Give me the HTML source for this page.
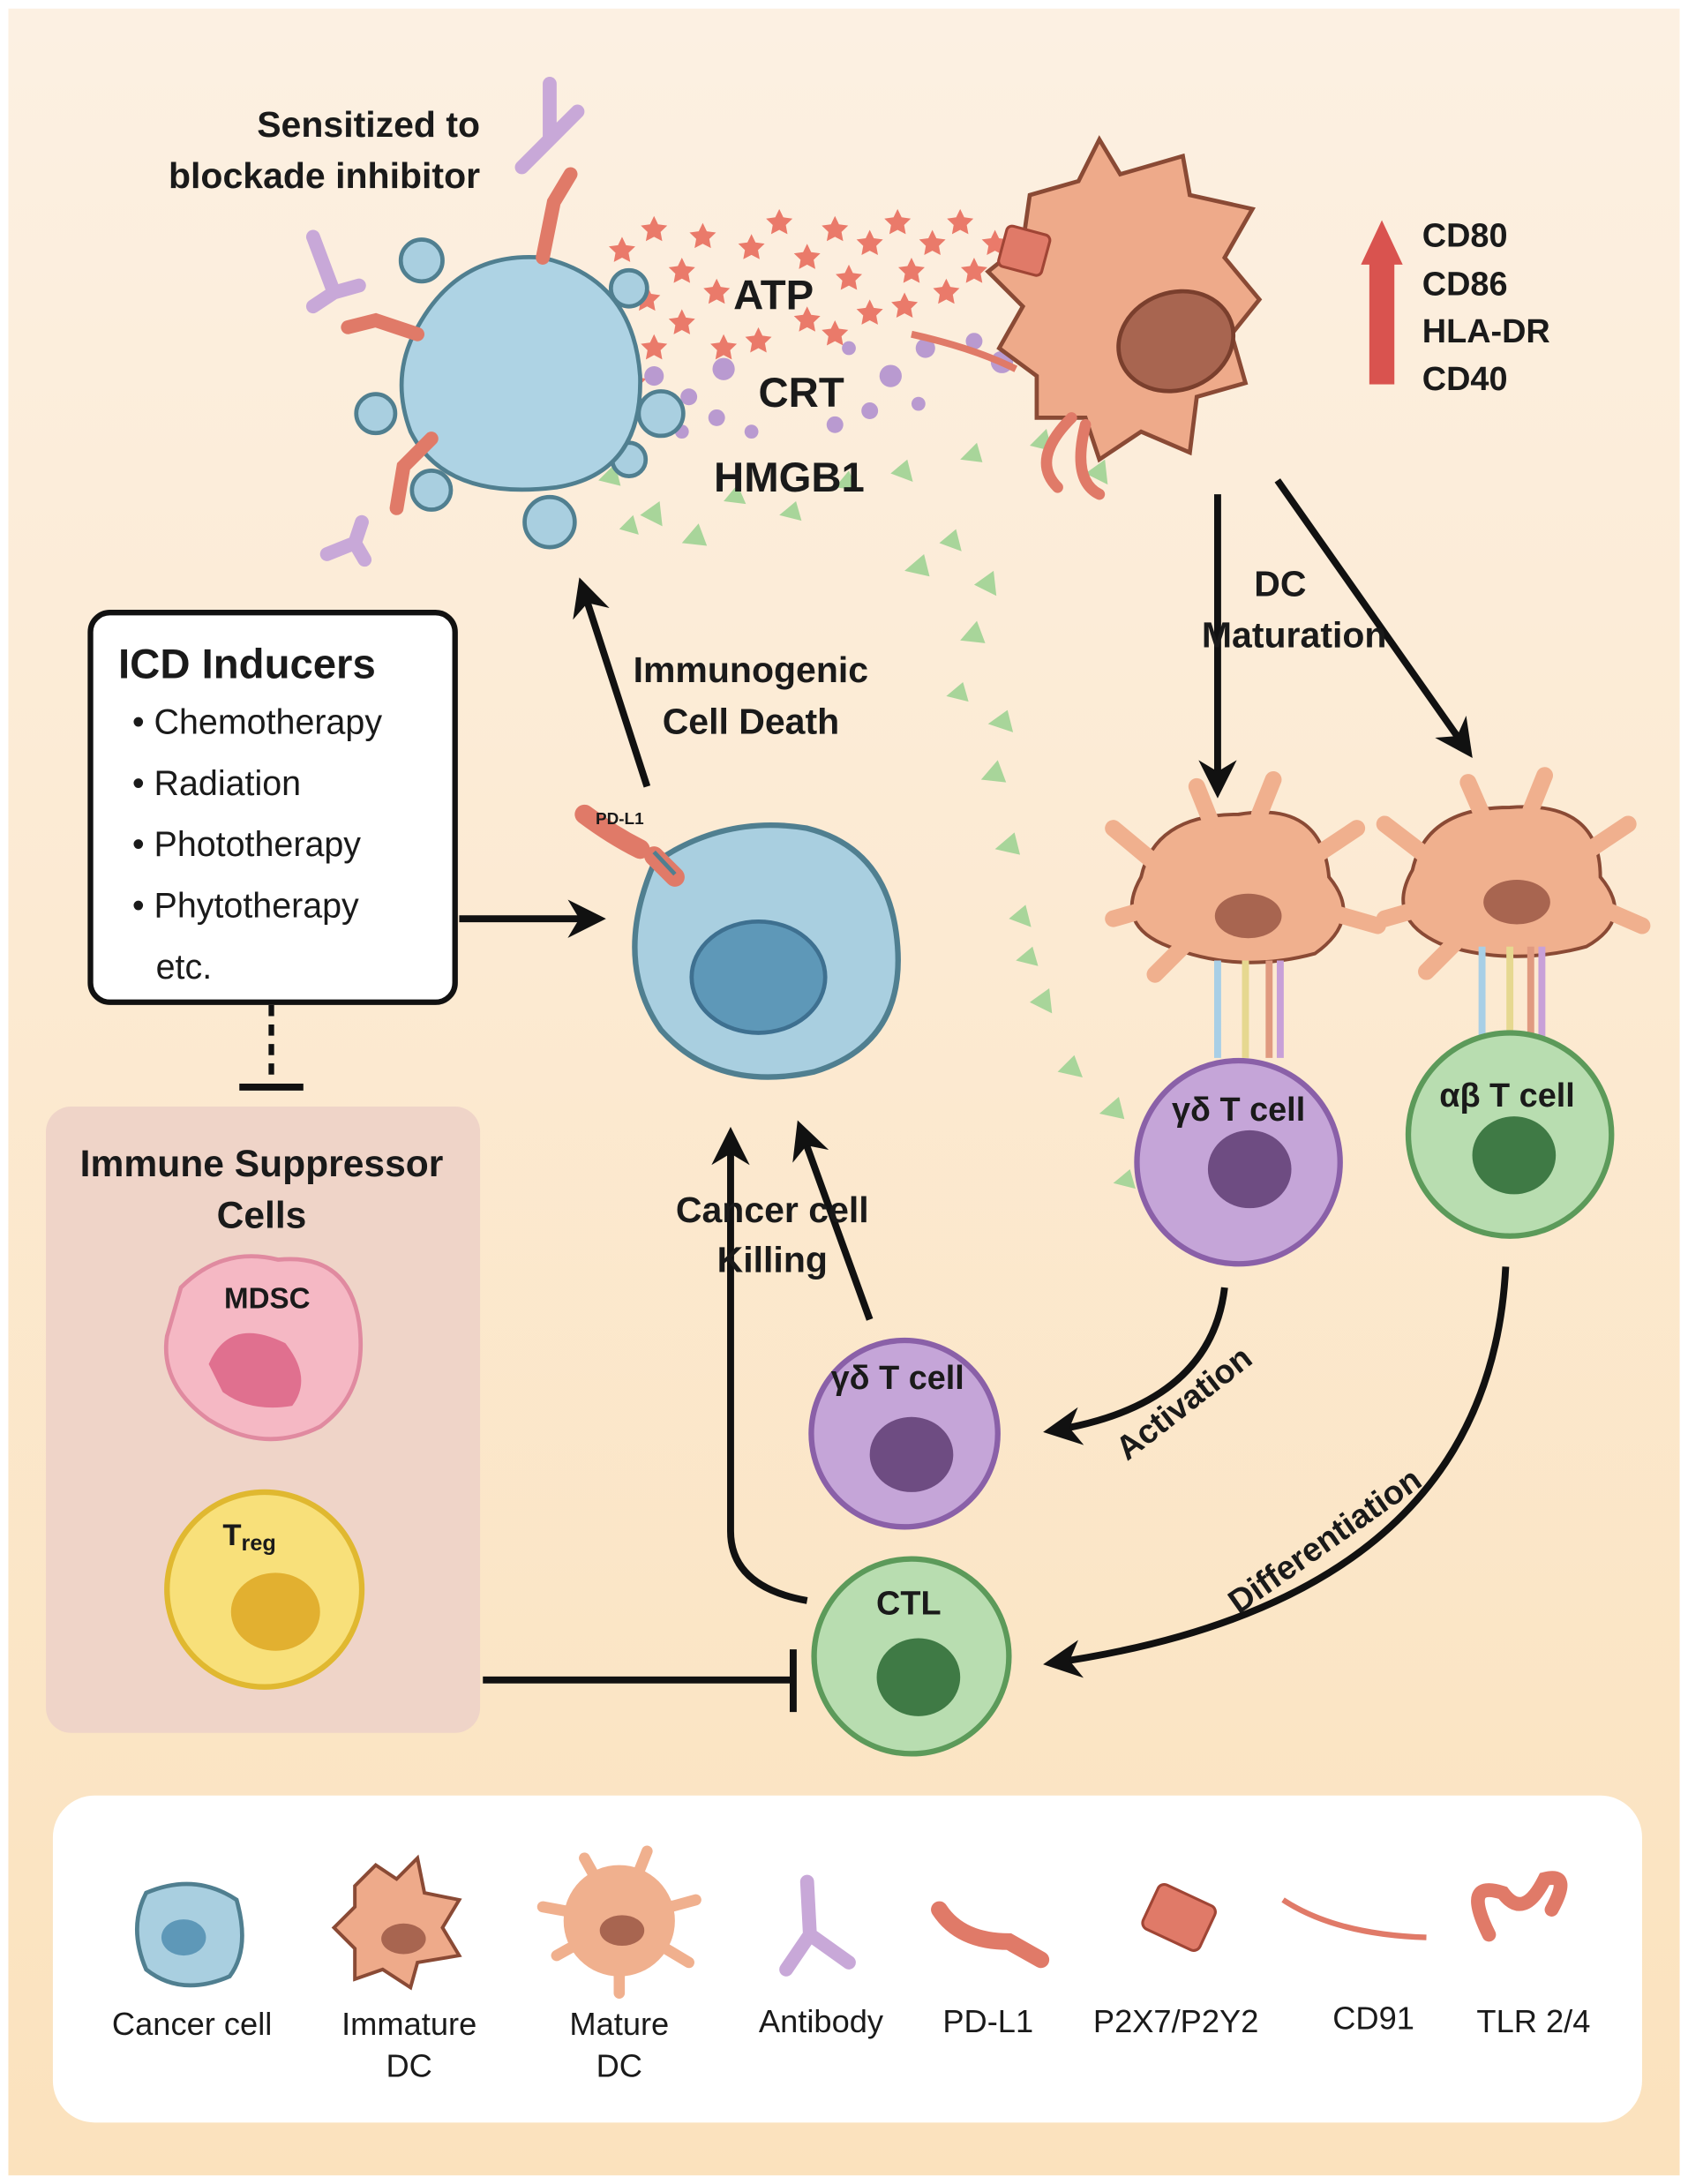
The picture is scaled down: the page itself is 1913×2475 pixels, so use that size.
<!DOCTYPE html>
<html><head><meta charset="utf-8"><style>
html,body{margin:0;padding:0;background:#fff}
svg{display:block}
text{font-family:"Liberation Sans",sans-serif;font-weight:bold;fill:#1a1a1a}
text.n{font-weight:normal}
</style></head><body>
<svg width="1913" height="2475" viewBox="0 0 1213 1569" xmlns="http://www.w3.org/2000/svg">
<defs>
<linearGradient id="bg" x1="0" y1="0" x2="0" y2="1"><stop offset="0" stop-color="#fcf0e2"/><stop offset="1" stop-color="#fbe2bd"/></linearGradient>
<marker id="ah" viewBox="0 0 10 10" refX="8" refY="5" markerWidth="5.5" markerHeight="5.5" orient="auto"><path d="M0,0 L10,5 L0,10 L3,5 z" fill="#111"/></marker>
<path id="st" d="M0,-10 L2.9,-4 L9.5,-3.1 L4.7,1.5 L5.9,8.1 L0,5 L-5.9,8.1 L-4.7,1.5 L-9.5,-3.1 L-2.9,-4Z" fill="#ea7a6a"/>
</defs>
<rect x="0" y="0" width="1213" height="1569" fill="#fff"/>
<rect x="6" y="6" width="1201" height="1557" fill="url(#bg)"/>
<rect x="38" y="1290" width="1142" height="235" rx="30" fill="#fff"/>
<rect x="33" y="795" width="312" height="450" rx="18" fill="#efd4c8"/>
<rect x="65" y="440" width="262" height="280" rx="14" fill="#fff" stroke="#111" stroke-width="4"/>
<text x="85" y="487" font-size="30">ICD Inducers</text>
<g font-size="25"><text class="n" x="95" y="527">• Chemotherapy</text><text class="n" x="95" y="571">• Radiation</text><text class="n" x="95" y="615">• Phototherapy</text><text class="n" x="95" y="659">• Phytotherapy</text><text class="n" x="112" y="703">etc.</text></g>
<line x1="195" y1="722" x2="195" y2="778" stroke="#111" stroke-width="4" stroke-dasharray="8,6"/>
<line x1="172" y1="781" x2="218" y2="781" stroke="#111" stroke-width="5"/>
<text x="188" y="845" font-size="27" text-anchor="middle">Immune Suppressor</text>
<text x="188" y="882" font-size="27" text-anchor="middle">Cells</text>
<path d="M130,925 Q160,895 200,905 Q250,900 258,950 Q265,1000 230,1025 Q190,1045 150,1020 Q115,995 120,960 Z" fill="#f5b8c4" stroke="#e08aa0" stroke-width="3"/>
<path d="M150,980 Q165,945 205,965 Q225,990 210,1010 Q180,1015 160,1000 Z" fill="#e0708f"/>
<text x="192" y="940" font-size="21" text-anchor="middle">MDSC</text>
<circle cx="190" cy="1142" r="70" fill="#f8e07a" stroke="#e0b830" stroke-width="4"/>
<ellipse cx="198" cy="1158" rx="32" ry="28" fill="#e2b030"/>
<text x="160" y="1110" font-size="22">T<tspan font-size="16" dy="4">reg</tspan></text>
<line x1="347" y1="1207" x2="570" y2="1207" stroke="#111" stroke-width="5"/>
<line x1="570" y1="1185" x2="570" y2="1230" stroke="#111" stroke-width="5"/>
<!-- stars -->
<g>
<use href="#st" x="447" y="180"/><use href="#st" x="470" y="165"/><use href="#st" x="490" y="195"/><use href="#st" x="505" y="170"/><use href="#st" x="465" y="215"/><use href="#st" x="490" y="232"/><use href="#st" x="515" y="210"/><use href="#st" x="540" y="178"/><use href="#st" x="560" y="160"/><use href="#st" x="580" y="185"/><use href="#st" x="600" y="165"/><use href="#st" x="610" y="200"/><use href="#st" x="625" y="175"/><use href="#st" x="645" y="160"/><use href="#st" x="655" y="195"/><use href="#st" x="670" y="175"/><use href="#st" x="690" y="160"/><use href="#st" x="700" y="195"/><use href="#st" x="715" y="175"/><use href="#st" x="625" y="225"/><use href="#st" x="600" y="240"/><use href="#st" x="580" y="230"/><use href="#st" x="545" y="245"/><use href="#st" x="520" y="250"/><use href="#st" x="470" y="250"/><use href="#st" x="455" y="275"/><use href="#st" x="650" y="220"/><use href="#st" x="680" y="210"/>
</g>
<g fill="#b99ad0">
<circle cx="470" cy="270" r="7"/><circle cx="495" cy="285" r="6"/><circle cx="520" cy="265" r="8"/><circle cx="515" cy="300" r="6"/><circle cx="640" cy="270" r="8"/><circle cx="665" cy="250" r="7"/><circle cx="700" cy="245" r="6"/><circle cx="625" cy="295" r="6"/><circle cx="660" cy="290" r="5"/><circle cx="490" cy="310" r="5"/><circle cx="610" cy="250" r="5"/><circle cx="720" cy="260" r="8"/><circle cx="540" cy="310" r="5"/><circle cx="600" cy="305" r="6"/>
</g>
<g fill="#a8d59a">
<path d="M430,345 l12,-12 l4,16z M460,370 l14,-10 l2,18z M490,390 l12,-14 l6,16z M520,360 l10,-12 l6,14z M640,340 l12,-10 l4,16z M690,330 l12,-12 l4,14z M740,320 l12,-12 l4,16z M780,340 l14,-10 l2,18z M650,410 l14,-12 l4,16z M700,420 l14,-10 l2,18z M690,460 l12,-14 l6,16z M710,520 l14,-10 l4,16z M705,560 l12,-14 l6,16z M715,610 l14,-12 l4,16z M725,660 l12,-10 l4,16z M740,720 l14,-10 l2,18z M760,770 l12,-12 l6,16z M790,800 l14,-12 l4,16z M800,850 l12,-10 l4,14z M560,370 l12,-10 l4,14z M600,350 l10,-12 l6,14z M675,390 l12,-10 l4,16z M445,380 l10,-10 l4,14z M680,500 l12,-10 l4,14z M730,690 l12,-10 l4,14z"/>
</g>
<text x="527" y="222" font-size="30">ATP</text>
<text x="545" y="292" font-size="30">CRT</text>
<text x="513" y="353" font-size="30">HMGB1</text>
<text x="345" y="98" font-size="26" text-anchor="end">Sensitized to</text>
<text x="345" y="135" font-size="26" text-anchor="end">blockade inhibitor</text>
<g stroke="#507f90" stroke-width="3" fill="#a9cfe0">
<circle cx="303" cy="187" r="15"/><circle cx="452" cy="207" r="13"/><circle cx="270" cy="297" r="14"/><circle cx="475" cy="297" r="16"/><circle cx="452" cy="330" r="12"/><circle cx="310" cy="352" r="14"/><circle cx="395" cy="375" r="18"/>
<path d="M300,235 Q330,180 390,185 Q455,200 460,270 Q462,340 400,350 Q320,360 295,310 Q280,270 300,235Z" fill="#aed3e4"/>
</g>
<g stroke-linecap="round" fill="none">
<path d="M390,185 L398,145 L410,125" stroke="#e07a68" stroke-width="10"/>
<path d="M395,60 L395,100 M395,100 L375,120 M395,100 L415,80" stroke="#c8a8d8" stroke-width="10"/>
<path d="M300,240 L270,230 L250,235" stroke="#e07a68" stroke-width="10"/>
<path d="M225,170 L240,210 L225,220 M240,210 L258,205" stroke="#c8a8d8" stroke-width="10"/>
<path d="M310,315 L290,335 L285,365" stroke="#e07a68" stroke-width="10"/>
<path d="M260,375 L255,390 L235,398 M255,390 L262,402" stroke="#c8a8d8" stroke-width="10"/>
</g>
<path d="M740,140 L775,130 L790,100 L805,125 L850,112 L855,140 L900,150 L880,185 L905,215 L885,240 L895,275 L860,285 L855,325 L820,310 L790,330 L780,300 L745,300 L745,270 L718,250 L735,220 L710,195 L735,175 Z" fill="#eeaa8a" stroke="#8a4a35" stroke-width="3"/>
<ellipse cx="845" cy="245" rx="42" ry="35" fill="#a86550" stroke="#7a3f2d" stroke-width="3" transform="rotate(-20 845 245)"/>
<rect x="720" y="165" width="32" height="30" rx="4" fill="#e07a68" stroke="#a04535" stroke-width="2" transform="rotate(15 736 180)"/>
<path d="M655,240 Q700,250 730,265" stroke="#e07a68" stroke-width="5" fill="none"/>
<path d="M770,300 Q740,330 760,350 M780,305 Q770,345 790,355" stroke="#e07a68" stroke-width="8" fill="none" stroke-linecap="round"/>
<rect x="984" y="188" width="18" height="88" fill="#d9534f"/><path d="M978,190 L993,158 L1008,190Z" fill="#d9534f"/>
<g font-size="24"><text x="1022" y="177">CD80</text><text x="1022" y="212">CD86</text><text x="1022" y="246">HLA-DR</text><text x="1022" y="280">CD40</text></g>
<g stroke="#111" stroke-width="5" fill="none" marker-end="url(#ah)">
<line x1="465" y1="565" x2="418" y2="420"/>
<line x1="330" y1="660" x2="430" y2="660"/>
<line x1="875" y1="355" x2="875" y2="568"/>
<line x1="918" y1="345" x2="1055" y2="540"/>
<path d="M580,1150 Q525,1140 525,1100 L525,815"/>
<line x1="625" y1="948" x2="575" y2="810"/>
<path d="M880,925 Q870,1010 755,1028"/>
<path d="M1082,910 Q1070,1150 755,1195"/>
</g>
<text x="455" y="490" font-size="26">Immunogenic</text>
<text x="476" y="527" font-size="26">Cell Death</text>
<text x="920" y="428" font-size="26" text-anchor="middle">DC</text>
<text x="930" y="465" font-size="26" text-anchor="middle">Maturation</text>
<text x="555" y="878" font-size="26" text-anchor="middle">Cancer cell</text>
<text x="555" y="914" font-size="26" text-anchor="middle">Killing</text>
<text x="810" y="1050" font-size="24" transform="rotate(-38 810 1050)">Activation</text>
<text x="890" y="1160" font-size="24" transform="rotate(-35 890 1160)">Differentiation</text>
<path d="M470,620 Q520,585 580,595 Q640,610 645,680 Q650,750 585,770 Q515,785 475,740 Q440,690 470,620Z" fill="#a9cfe0" stroke="#507f90" stroke-width="4"/>
<ellipse cx="545" cy="702" rx="48" ry="40" fill="#5e98b8" stroke="#3e7090" stroke-width="3"/>
<path d="M485,630 L470,615 M420,585 Q440,600 460,610" stroke="#e07a68" stroke-width="14" stroke-linecap="round" fill="none"/>
<line x1="470" y1="612" x2="485" y2="628" stroke="#507f90" stroke-width="3"/>
<text x="428" y="592" font-size="12">PD-L1</text>
<g fill="#f0b08e" stroke="#8a4a35" stroke-width="2.5">
<path d="M890,585 Q950,575 955,630 Q980,660 945,685 Q890,700 840,680 Q800,665 820,630 Q830,585 890,585Z"/>
<path d="M1085,580 Q1150,575 1150,630 Q1175,660 1140,680 Q1085,695 1035,678 Q995,660 1015,625 Q1025,580 1085,580Z"/>
</g>
<g stroke="#f0b08e" stroke-width="12" stroke-linecap="round" fill="none">
<path d="M830,620 L800,595 M835,650 L800,660 M870,590 L860,565 M905,585 L915,560 M945,615 L975,595 M955,655 L990,665 M850,680 L830,700"/>
<path d="M1025,615 L995,592 M1030,650 L995,660 M1065,585 L1055,562 M1100,582 L1110,557 M1140,612 L1170,592 M1150,652 L1180,665 M1045,678 L1025,698"/>
</g>
<ellipse cx="897" cy="658" rx="24" ry="16" fill="#a86550"/><ellipse cx="1090" cy="648" rx="24" ry="16" fill="#a86550"/>
<g stroke-width="5" fill="none">
<path d="M875,690 L875,760" stroke="#a8cfe6"/><path d="M895,690 L895,760" stroke="#e6d890"/><path d="M912,690 L912,760" stroke="#e09a80"/><path d="M920,690 L920,760" stroke="#c8a0d8"/>
<path d="M1065,680 L1065,750" stroke="#a8cfe6"/><path d="M1085,680 L1085,750" stroke="#e6d890"/><path d="M1100,680 L1100,750" stroke="#e09a80"/><path d="M1108,680 L1108,750" stroke="#c8a0d8"/>
</g>
<circle cx="890" cy="835" r="73" fill="#c5a5d8" stroke="#8a60a8" stroke-width="4"/>
<ellipse cx="898" cy="840" rx="30" ry="28" fill="#6e4c82"/>
<text x="890" y="805" font-size="24" text-anchor="middle">γδ T cell</text>
<circle cx="1085" cy="815" r="73" fill="#b8ddb0" stroke="#5c9a5a" stroke-width="4"/>
<ellipse cx="1088" cy="830" rx="30" ry="28" fill="#3f7a45"/>
<text x="1083" y="795" font-size="24" text-anchor="middle">αβ T cell</text>
<circle cx="650" cy="1030" r="67" fill="#c5a5d8" stroke="#8a60a8" stroke-width="4"/>
<ellipse cx="655" cy="1045" rx="30" ry="27" fill="#6e4c82"/>
<text x="645" y="998" font-size="24" text-anchor="middle">γδ T cell</text>
<circle cx="655" cy="1190" r="70" fill="#b8ddb0" stroke="#5c9a5a" stroke-width="4"/>
<ellipse cx="660" cy="1205" rx="30" ry="28" fill="#3f7a45"/>
<text x="653" y="1160" font-size="24" text-anchor="middle">CTL</text>
<path d="M105,1360 Q140,1345 170,1365 Q180,1400 165,1420 Q130,1435 105,1415 Q92,1385 105,1360Z" fill="#a9cfe0" stroke="#507f90" stroke-width="3"/>
<ellipse cx="132" cy="1392" rx="16" ry="13" fill="#5e98b8"/>
<path d="M255,1355 L270,1340 L285,1350 L300,1335 L305,1360 L330,1365 L318,1385 L330,1405 L300,1410 L295,1428 L275,1415 L255,1422 L255,1400 L240,1385 L255,1370Z" fill="#eeaa8a" stroke="#8a4a35" stroke-width="2.5"/>
<ellipse cx="290" cy="1393" rx="16" ry="11" fill="#a86550"/>
<circle cx="445" cy="1380" r="40" fill="#f0b08e"/>
<g stroke="#f0b08e" stroke-width="8" stroke-linecap="round"><path d="M445,1380 L390,1370 M445,1380 L400,1405 M445,1380 L420,1335 M445,1380 L465,1330 M445,1380 L500,1365 M445,1380 L495,1410 M445,1380 L445,1432"/></g>
<ellipse cx="447" cy="1387" rx="16" ry="11" fill="#a86550"/>
<path d="M580,1352 L582,1390 L565,1415 M582,1390 L610,1410" stroke="#c8a8d8" stroke-width="10" stroke-linecap="round" fill="none"/>
<path d="M675,1372 Q690,1395 725,1395 L748,1408" stroke="#e07a68" stroke-width="12" stroke-linecap="round" fill="none"/>
<rect x="825" y="1360" width="45" height="35" rx="5" fill="#e07a68" stroke="#a04535" stroke-width="2" transform="rotate(25 847 1377)"/>
<path d="M922,1365 Q960,1390 1025,1392" stroke="#e07a68" stroke-width="4" fill="none"/>
<path d="M1070,1390 Q1050,1350 1080,1360 Q1095,1380 1110,1350 Q1130,1345 1115,1372" stroke="#e07a68" stroke-width="10" stroke-linecap="round" fill="none"/>
<g font-size="23" text-anchor="middle">
<text class="n" x="138" y="1462">Cancer cell</text>
<text class="n" x="294" y="1462">Immature</text><text class="n" x="294" y="1492">DC</text>
<text class="n" x="445" y="1462">Mature</text><text class="n" x="445" y="1492">DC</text>
<text class="n" x="590" y="1460">Antibody</text>
<text class="n" x="710" y="1460">PD-L1</text>
<text class="n" x="845" y="1460">P2X7/P2Y2</text>
<text class="n" x="987" y="1458">CD91</text>
<text class="n" x="1102" y="1460">TLR 2/4</text>
</g>
</svg>
</body></html>
